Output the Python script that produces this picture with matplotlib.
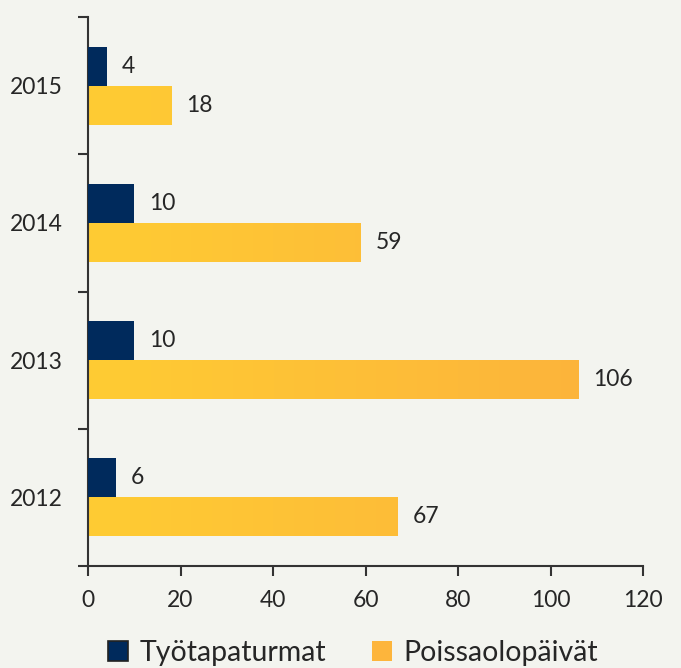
import matplotlib
matplotlib.use("Agg")
import matplotlib.pyplot as plt
import numpy as np
from matplotlib.patches import Patch
from matplotlib.colors import LinearSegmentedColormap

years = ["2012", "2013", "2014", "2015"]
tyotapaturmat = [6, 10, 10, 4]
poissaolopaivat = [67, 106, 59, 18]
series_names = ["Työtapaturmat", "Poissaolopäivät"]
xticks = [0, 20, 40, 60, 80, 100, 120]

navy = "#002A5C"
yellow_left = "#FFCC33"
yellow_right = "#FCB13C"
bg = "#F3F4EF"
txt = "#262626"

plt.rcParams['font.family'] = ['Lato', 'DejaVu Sans']
fs = 16.5

fig = plt.figure(figsize=(6.81, 6.68), dpi=100, facecolor=bg)
ax = fig.add_axes([88/681, 1-566/668, (643-88)/681, (566-17)/668])
ax.set_facecolor(bg)

h = 0.285
y = np.arange(len(years))
ax.barh(y + h/2, tyotapaturmat, height=h, color=navy, zorder=3)
ybars = ax.barh(y - h/2, poissaolopaivat, height=h, color=yellow_left, zorder=2)

cmap = LinearSegmentedColormap.from_list("g", [yellow_left, yellow_right])
grad = np.linspace(0, 1, 256).reshape(1, -1)
for b in ybars:
    im = ax.imshow(grad, extent=[0, 120, b.get_y(), b.get_y() + b.get_height()],
                   cmap=cmap, aspect='auto', zorder=2.5, interpolation='bilinear')
    im.set_clip_path(b)

for yi, v in zip(y, tyotapaturmat):
    ax.text(v + 3.3, yi + h/2, str(v), va='center', ha='left', fontsize=fs, color=txt)
for yi, v in zip(y, poissaolopaivat):
    ax.text(v + 3.3, yi - h/2, str(v), va='center', ha='left', fontsize=fs, color=txt)

ax.set_xlim(0, 120)
ax.set_ylim(-0.5, len(years) - 0.5)
ax.set_xticks(xticks)
ax.set_xticklabels([str(t) for t in xticks], fontsize=fs, color=txt)
ax.set_yticks(y)
ax.set_yticklabels(years, fontsize=fs, color=txt)
ax.set_yticks(np.arange(-0.5, len(years)), minor=True)
ax.tick_params(axis='y', which='major', length=0, pad=18)
ax.tick_params(axis='y', which='minor', length=7, width=1.5, color="#333333")
ax.tick_params(axis='x', which='major', length=7, width=1.5, color="#333333", pad=10)

for s in ['top', 'right']:
    ax.spines[s].set_visible(False)
for s in ['left', 'bottom']:
    ax.spines[s].set_color("#333333")
    ax.spines[s].set_linewidth(1.5)

handles = [Patch(facecolor=navy, edgecolor="#222222", linewidth=1.2),
           Patch(facecolor="#FDB53C", edgecolor="none")]
fig.legend(handles, series_names, loc='center', ncol=2, frameon=False,
           bbox_to_anchor=(353/681, 1-653/668), fontsize=20.5, handlelength=0.7,
           handleheight=0.7, columnspacing=1.6, handletextpad=0.4, labelcolor=txt,
           borderpad=0)

fig.savefig("out.png", dpi=100, facecolor=bg)
